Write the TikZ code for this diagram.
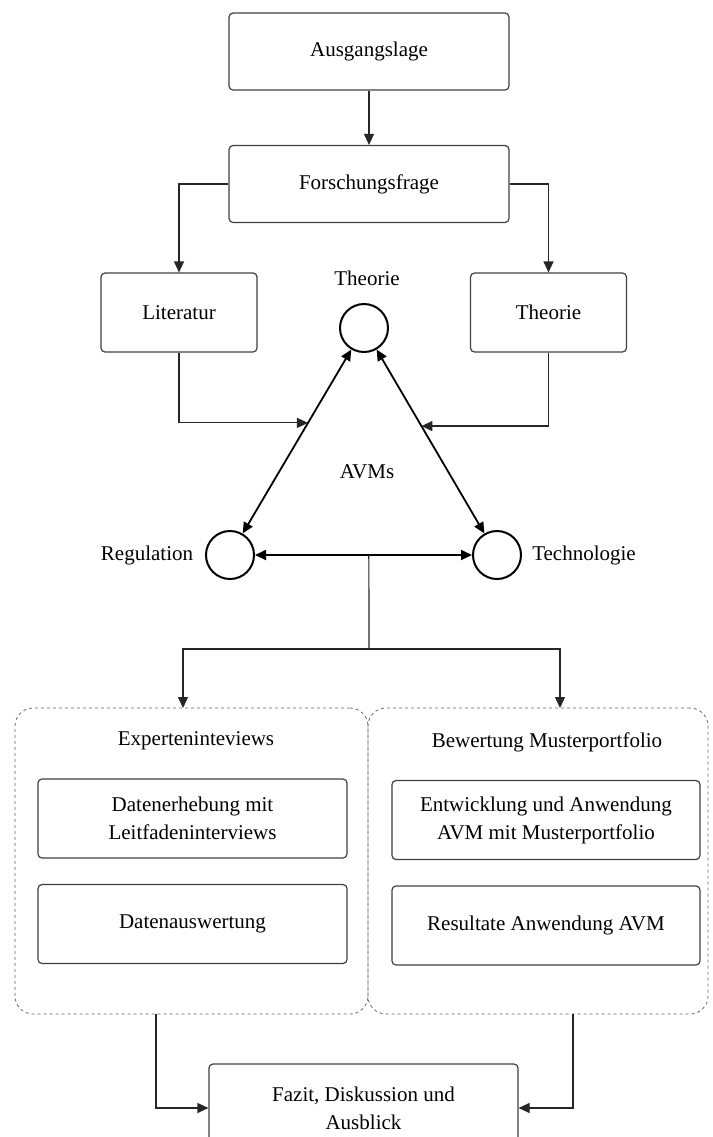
\documentclass[tikz,border=0pt]{standalone}
\usepackage{fontspec}
\setmainfont{Liberation Serif}
\usetikzlibrary{arrows.meta, positioning, calc}

\begin{document}
\begin{tikzpicture}[x=0.5pt, y=-0.5pt, >={Triangle[length=5.5pt, width=5pt]},
  box/.style={draw=black!75, rounded corners=2pt, line width=0.6pt, align=center,
    inner sep=0pt, font=\fontsize{10.5}{14}\selectfont},
  knot/.style={circle, draw, line width=1pt, minimum size=24pt, inner sep=0pt},
  group/.style={draw=black!60, dash pattern=on 1.5pt off 1.5pt, line width=0.4pt,
    rounded corners=9pt, inner sep=0pt},
  lbl/.style={font=\fontsize{10.5}{14}\selectfont, align=center},
  link/.style={->, line width=0.6pt, draw=black!85},
  tri/.style={<->, line width=0.9pt}]
  \useasboundingbox (0,0) rectangle (713,1137);
  \clip (0,0) rectangle (713,1137);

  % Top of the flow
  \node[box, minimum width=140pt, minimum height=38.5pt] (ausg) at (369,51.5) {Ausgangslage};
  \node[box, minimum width=140pt, minimum height=38.5pt] (frage) at (369,184) {Forschungsfrage};
  \node[box, minimum width=78pt, minimum height=39.5pt] (lit) at (179,312.5) {Literatur};
  \node[box, minimum width=78pt, minimum height=39.5pt] (theo) at (548.5,312.5) {Theorie};
  \draw[link] (ausg) -- (frage);
  \draw[link] (frage.west) -| (lit.north);
  \draw[link] (frage.east) -| (theo.north);

  % Triangle of the AVMs
  \node[knot] (ttop) at (364,328) {};
  \node[knot] (treg) at (230,555) {};
  \node[knot] (ttech) at (497,555) {};
  \node[lbl] (ttopl) at (367,278) {Theorie};
  \node[lbl] (tregl) at (147,555) {Regulation};
  \node[lbl] (ttechl) at (584,555) {Technologie};
  \node[lbl] (avm) at (367,472) {AVMs};
  \draw[tri] (ttop) -- (treg);
  \draw[tri] (ttop) -- (ttech);
  \draw[tri] (treg) -- (ttech);
  \coordinate (litIn) at ($(ttop)!0.418!(treg)$);
  \coordinate (theoIn) at ($(ttop)!0.432!(ttech)$);
  \draw[link] (lit.south) |- (litIn);
  \draw[link] (theo.south) |- (theoIn);

  % Two work packages
  \node[group, minimum width=176.5pt, minimum height=153pt] (expgrp) at (191.5,861) {};
  \node[group, minimum width=170pt, minimum height=153pt] (bewgrp) at (538,861) {};
  \node[lbl] (expt) at (196,741) {Experteninteviews};
  \node[lbl] (bewt) at (547,742) {Bewertung Musterportfolio};
  \node[box, minimum width=154.5pt, minimum height=39.5pt] (erheb) at (192.5,818.5) {Datenerhebung mit\\Leitfadeninterviews};
  \node[box, minimum width=154.5pt, minimum height=39.5pt] (ausw) at (192.5,924) {Datenauswertung};
  \node[box, minimum width=154pt, minimum height=39.5pt] (entw) at (546,820) {Entwicklung und Anwendung\\AVM mit Musterportfolio};
  \node[box, minimum width=154pt, minimum height=39.5pt] (resu) at (546,925.5) {Resultate Anwendung AVM};

  \coordinate (split) at ($(treg)!0.52!(ttech)$);
  \coordinate (fork) at (369,649);
  \coordinate (expIn) at (183,708);
  \coordinate (bewIn) at (560,708);
  \draw[line width=0.6pt, draw=black!85] (split) -- (fork);
  \draw[link] (fork) -| (expIn);
  \draw[link] (fork) -| (bewIn);

  % Result
  \node[box, minimum width=154.5pt, minimum height=44pt] (fazit) at (363.5,1108) {Fazit, Diskussion und\\Ausblick};
  \coordinate (expOut) at (156,1014);
  \coordinate (bewOut) at (573,1014);
  \draw[link] (expOut) |- (fazit.west);
  \draw[link] (bewOut) |- (fazit.east);
\end{tikzpicture}
\end{document}
